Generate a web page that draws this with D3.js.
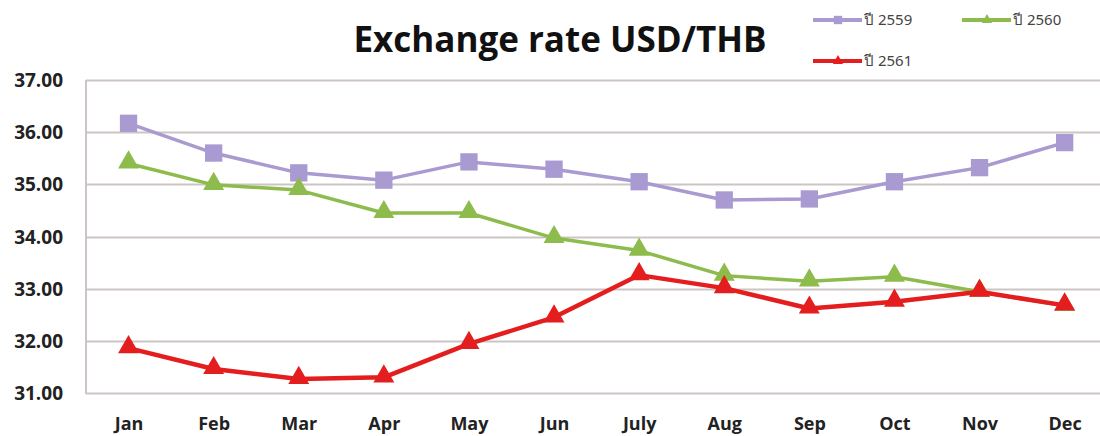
<!doctype html>
<html lang="th">
<head>
<meta charset="utf-8">
<title>Exchange rate USD/THB</title>
<script src="https://cdn.jsdelivr.net/npm/d3@7"></script>
<style>
	body{
		padding:0px;
		margin:0px;
		background:#fff;
	}
	svg{
		display:block;
	}
</style>
</head>
<body>
<svg id="chartSvg"></svg>
<script>
var months = ["Jan","Feb","Mar","Apr","May","Jun","July","Aug","Sep","Oct","Nov","Dec"];
var yTicks = [31,32,33,34,35,36,37];
var seriesNames = ["ปี 2559","ปี 2560","ปี 2561"];
var y2559 = [36.17,35.60,35.22,35.08,35.43,35.29,35.05,34.70,34.72,35.05,35.32,35.80];
var y2560 = [35.40,34.99,34.89,34.45,34.45,33.97,33.73,33.25,33.14,33.23,32.94,32.67];
var y2561 = [31.86,31.46,31.27,31.30,31.94,32.45,33.26,33.01,32.62,32.75,32.94,32.68];

var colors = ["#a99ad1","#8dbb4c","#e41e1e"];
var shapes = [d3.symbolSquare, d3.symbolTriangle, d3.symbolTriangle];

var width = 1100, height = 436;
var cLeft = 86, cTop = 80, cBottom = 393, step = 85.1;

var svg = d3.select("#chartSvg").attr("width", width).attr("height", height);

var xScale = d3.scalePoint()
	.domain(months)
	.range([cLeft, cLeft + step*12])
	.padding(0.5);
var yScale = d3.scaleLinear()
	.domain([31, 37])
	.range([cBottom, cTop]);

//grid lines
svg.append("g")
	.selectAll("line")
	.data(yTicks)
	.join("line")
	.attr("x1", cLeft)
	.attr("x2", width)
	.attr("y1", function(d){return Math.round(yScale(d))+0.5;})
	.attr("y2", function(d){return Math.round(yScale(d))+0.5;})
	.style("stroke", "#cdc5c5")
	.style("stroke-width", 2);

//left axis line
svg.append("line")
	.attr("x1", cLeft).attr("x2", cLeft)
	.attr("y1", cTop).attr("y2", cBottom+1)
	.style("stroke", "#cdc5c5")
	.style("stroke-width", 2);

//y labels
var yAxis = d3.axisLeft(yScale).tickValues(yTicks).tickSize(0).tickPadding(0)
	.tickFormat(d3.format(".2f"));
var gy = svg.append("g")
	.attr("transform", "translate(63,0)")
	.call(yAxis);
gy.select(".domain").remove();
gy.selectAll("text")
	.attr("font-family", "'Open Sans', sans-serif")
	.attr("font-weight", "bold")
	.attr("font-size", 19)
	.attr("fill", "#222")
	.attr("dy", "0.35em");

//x labels
var xAxis = d3.axisBottom(xScale).tickSize(0).tickPadding(0);
var gx = svg.append("g")
	.attr("transform", "translate(0,430)")
	.call(xAxis);
gx.select(".domain").remove();
gx.selectAll("text")
	.attr("font-family", "'Open Sans', sans-serif")
	.attr("font-weight", "bold")
	.attr("font-size", 18)
	.attr("fill", "#222")
	.attr("dy", "0");

//lines
var allSeries = [y2559, y2560, y2561];
var lineWidths = [3.5, 3.5, 4.5];
var line = d3.line()
	.x(function(d,i){return xScale(months[i]);})
	.y(function(d){return yScale(d);});

for(var i=0;i<allSeries.length;i++){
	var g = svg.append("g");
	g.append("path")
		.datum(allSeries[i])
		.attr("d", line)
		.attr("fill", "none")
		.style("stroke", colors[i])
		.style("stroke-width", lineWidths[i])
		.style("stroke-linejoin", "round");
	g.selectAll("path.mark")
		.data(allSeries[i])
		.join("path")
		.attr("class", "mark")
		.attr("d", d3.symbol().type(shapes[i]).size(i==0 ? 300 : 190))
		.attr("transform", function(d,j){return "translate("+xScale(months[j])+","+(yScale(d)+(i==0?0:-1))+")";})
		.attr("fill", colors[i]);
}

//title
svg.append("text")
	.attr("x", 560)
	.attr("y", 52)
	.attr("text-anchor", "middle")
	.attr("font-family", "'Open Sans', sans-serif")
	.attr("font-weight", "bold")
	.attr("font-size", 35)
	.attr("fill", "#111")
	.text("Exchange rate USD/THB");

//legend
var legPos = [[813,20],[962,20],[813,61]];
for(var i=0;i<seriesNames.length;i++){
	var lg = svg.append("g").attr("transform", "translate("+legPos[i][0]+","+legPos[i][1]+")");
	lg.append("line")
		.attr("x1", 0).attr("x2", 49)
		.attr("y1", 0).attr("y2", 0)
		.style("stroke", colors[i])
		.style("stroke-width", 4);
	lg.append("path")
		.attr("d", d3.symbol().type(shapes[i]).size(i==0 ? 70 : 45))
		.attr("transform", "translate(25,0)")
		.attr("fill", colors[i]);
	lg.append("text")
		.attr("x", 51)
		.attr("y", 0)
		.attr("dy", "0.35em")
		.attr("font-family", "'Noto Sans', sans-serif")
		.attr("font-size", 15)
		.attr("fill", "#444")
		.text(seriesNames[i]);
}
</script>
</body>
</html>
